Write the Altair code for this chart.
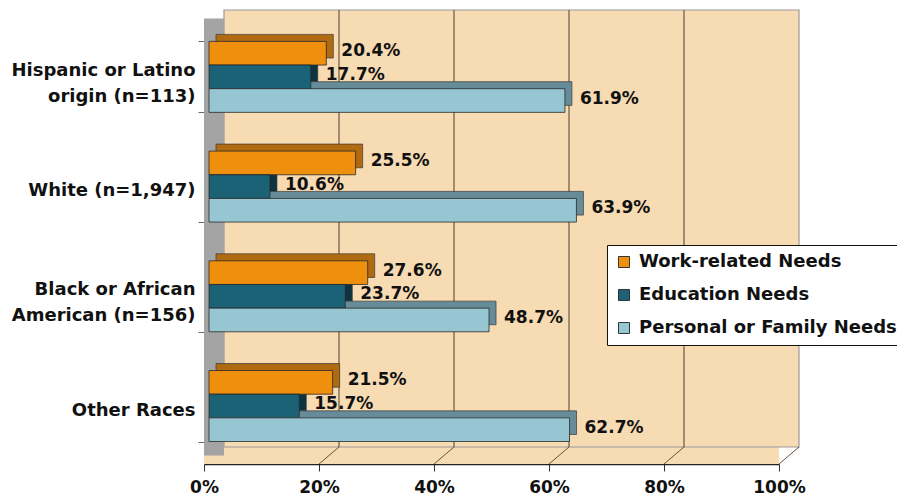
import altair as alt
import pandas as pd

# ---------------- data ----------------
groups = ["Hispanic or Latino\norigin (n=113)", "White (n=1,947)",
          "Black or African\nAmerican (n=156)", "Other Races"]
series = ["Work-related Needs", "Education Needs", "Personal or Family Needs"]
work_related = [20.4, 25.5, 27.6, 21.5]
education = [17.7, 10.6, 23.7, 15.7]
personal_family = [61.9, 63.9, 48.7, 62.7]
x_ticks = [0, 20, 40, 60, 80, 100]

rows = []
for i, g in enumerate(groups):
    for s, vals in zip(series, [work_related, education, personal_family]):
        rows.append({"group": g, "series": s, "value": vals[i]})
bars_df = pd.DataFrame(rows)
ticks_df = pd.DataFrame({"t": x_ticks})
extent_df = pd.DataFrame({"lo": [x_ticks[0]], "hi": [x_ticks[-1]]})

# ---------------- style ----------------
front_colors = ["#EE8F0E", "#1C6276", "#96C6D2"]
depth_colors = ["#B06A10", "#0D3340", "#668C99"]
WHEAT = "#F7DBB3"
FONT = "DejaVu Sans"
W, H = 575, 437
WALL_DX, WALL_DY = 20, -17
BAR_DX, BAR_DY = 7, -7
BAR_SHIFT = 5
MULTI = "indexof(datum.label, '\\n') >= 0"

x_scale = alt.Scale(domain=[0, 100], nice=False)
x_axis = alt.Axis(values=x_ticks, labelExpr="datum.value + '%'", title=None, grid=False,
                  domainColor="#222", domainWidth=1.5, tickColor="#333", tickSize=7,
                  labelPadding=8, labelFontSize=17, labelFlush=False)
# single-line category labels, ticks and the wall edge
y_axis_single = alt.Axis(title=None, orient="left", labelExpr=f"{MULTI} ? '' : datum.label",
                         labelAlign="right", labelFontSize=18, labelLimit=300, labelPadding=3,
                         labelOffset=4, tickSize=6, tickColor="#666", tickBand="extent",
                         domainColor="#6a6a6a", domainWidth=1)
# two-line category labels, centred on their band
y_axis_multi = alt.Axis(title=None, orient="left",
                        labelExpr=f"{MULTI} ? split(datum.label, '\\n') : ''",
                        labelAlign="right", labelFontSize=18, labelLineHeight=26,
                        labelLimit=300, labelPadding=9, labelOffset=-6,
                        ticks=False, domain=False)


def y_scale(shift=0):
    return alt.Scale(domain=groups, paddingInner=0.353, paddingOuter=0.168, align=0.39,
                     range=[shift, H + shift])


yoff = alt.YOffset("series:N", scale=alt.Scale(domain=series))

floor = alt.Chart(extent_df).mark_rect(fill=WHEAT).encode(
    x=alt.X("lo:Q", scale=x_scale, axis=x_axis), x2="hi:Q",
    y=alt.value(H + WALL_DY), y2=alt.value(H))

wall = alt.Chart(extent_df).mark_rect(
    fill=WHEAT, stroke="#9a9a9a", strokeWidth=1.2,
    xOffset=WALL_DX, x2Offset=WALL_DX, yOffset=WALL_DY, y2Offset=WALL_DY).encode(
    x=alt.X("lo:Q", scale=x_scale, axis=x_axis), x2="hi:Q",
    y=alt.value(0), y2=alt.value(H))

side = alt.Chart(extent_df).mark_rect(
    fill="#A4A4A4", x2Offset=WALL_DX, yOffset=WALL_DY / 2, y2Offset=WALL_DY / 2).encode(
    x=alt.X("lo:Q", scale=x_scale, axis=x_axis), x2="lo:Q",
    y=alt.value(0), y2=alt.value(H))

grid = alt.Chart(ticks_df).transform_filter("datum.t > 0 && datum.t < 100").mark_rule(
    color="#4e3f2f", strokeWidth=1, xOffset=WALL_DX, yOffset=WALL_DY, y2Offset=WALL_DY).encode(
    x=alt.X("t:Q", scale=x_scale, axis=x_axis), y=alt.value(0), y2=alt.value(H))

diag = alt.Chart(ticks_df).transform_filter("datum.t > 0").mark_rule(
    color="#6b5236", strokeWidth=1, x2Offset=WALL_DX, y2Offset=WALL_DY).encode(
    x=alt.X("t:Q", scale=x_scale, axis=x_axis), x2="t:Q",
    y=alt.value(H), y2=alt.value(H))

shadow = alt.Chart(bars_df).mark_bar(
    xOffset=BAR_SHIFT + BAR_DX, x2Offset=BAR_SHIFT + BAR_DX, stroke="#3a3a3a", strokeWidth=0.7).encode(
    x=alt.X("value:Q", scale=x_scale, axis=x_axis),
    y=alt.Y("group:N", scale=y_scale(BAR_DY), axis=None),
    yOffset=yoff,
    color=alt.Color("series:N", scale=alt.Scale(domain=series, range=depth_colors), legend=None))

front = alt.Chart(bars_df).mark_bar(
    xOffset=BAR_SHIFT, x2Offset=BAR_SHIFT, stroke="#2a2a2a", strokeWidth=0.8).encode(
    x=alt.X("value:Q", scale=x_scale, axis=x_axis),
    y=alt.Y("group:N", scale=y_scale(0), axis=y_axis_single),
    yOffset=yoff,
    color=alt.Color("series:N", scale=alt.Scale(domain=series, range=front_colors),
                    legend=alt.Legend(title=None, orient="none", legendX=403, legendY=218,
                                      fillColor="white", strokeColor="#111", padding=8,
                                      symbolType="square", symbolSize=121,
                                      symbolStrokeColor="#333", symbolStrokeWidth=1,
                                      labelFont=FONT, labelFontSize=18, labelFontWeight="bold",
                                      labelColor="#111", labelLimit=400, rowPadding=15,
                                      labelOffset=6)))

text = alt.Chart(bars_df).transform_calculate(
    label="format(datum.value, '.1f') + '%'").mark_text(
    align="left", baseline="middle", dx=BAR_SHIFT + 15, dy=-2, font=FONT, fontSize=17,
    fontWeight="bold", color="#111").encode(
    x=alt.X("value:Q", scale=x_scale, axis=x_axis),
    y=alt.Y("group:N", scale=y_scale(0), axis=y_axis_multi),
    yOffset=yoff,
    text="label:N")

chart = alt.layer(
    floor, wall, side, grid, diag, shadow, front, text
).resolve_scale(
    y="independent", yOffset="independent", color="independent"
).properties(
    width=W, height=H,
    padding={"left": 196, "top": 19, "right": 118, "bottom": 32},
    autosize=alt.AutoSizeParams(type="none"),
).configure_view(stroke=None).configure_axis(
    labelFont=FONT, labelFontWeight="bold", labelColor="#111")

chart.save("out.html", embed_options={"renderer": "svg", "actions": False})
